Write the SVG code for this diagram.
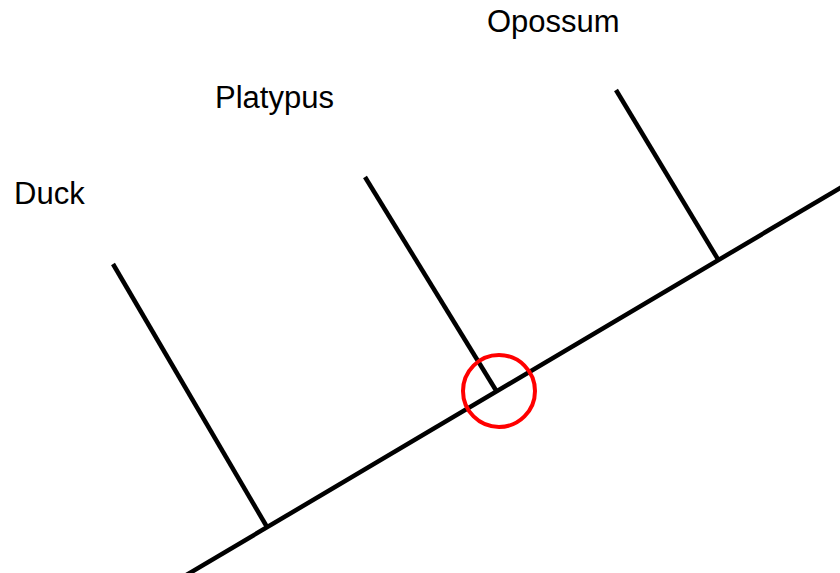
<svg xmlns="http://www.w3.org/2000/svg" width="840" height="573" viewBox="0 0 840 573">
<style>
.lbl{font-family:"Liberation Sans",Arial,sans-serif;font-size:31px;fill:#000}
.edge{stroke:#000;stroke-width:4.5;fill:none;stroke-linecap:butt}
</style>
<rect width="840" height="573" fill="#fff"/>
<g id="connectors">
<line class="edge" x1="183" y1="577" x2="846" y2="184.5"/>
<line class="edge" x1="113" y1="264" x2="267" y2="527"/>
<line class="edge" x1="365" y1="177" x2="497" y2="392"/>
<line class="edge" x1="616" y1="90" x2="719" y2="261"/>
</g>
<g id="duck"><text class="lbl" x="14" y="204">Duck</text></g>
<g id="platypus"><text class="lbl" x="215" y="108">Platypus</text></g>
<g id="opossum"><text class="lbl" x="487" y="32">Opossum</text></g>
<g id="highlight"><circle cx="499" cy="391" r="36" fill="none" stroke="#ff0000" stroke-width="4"/></g>
</svg>
